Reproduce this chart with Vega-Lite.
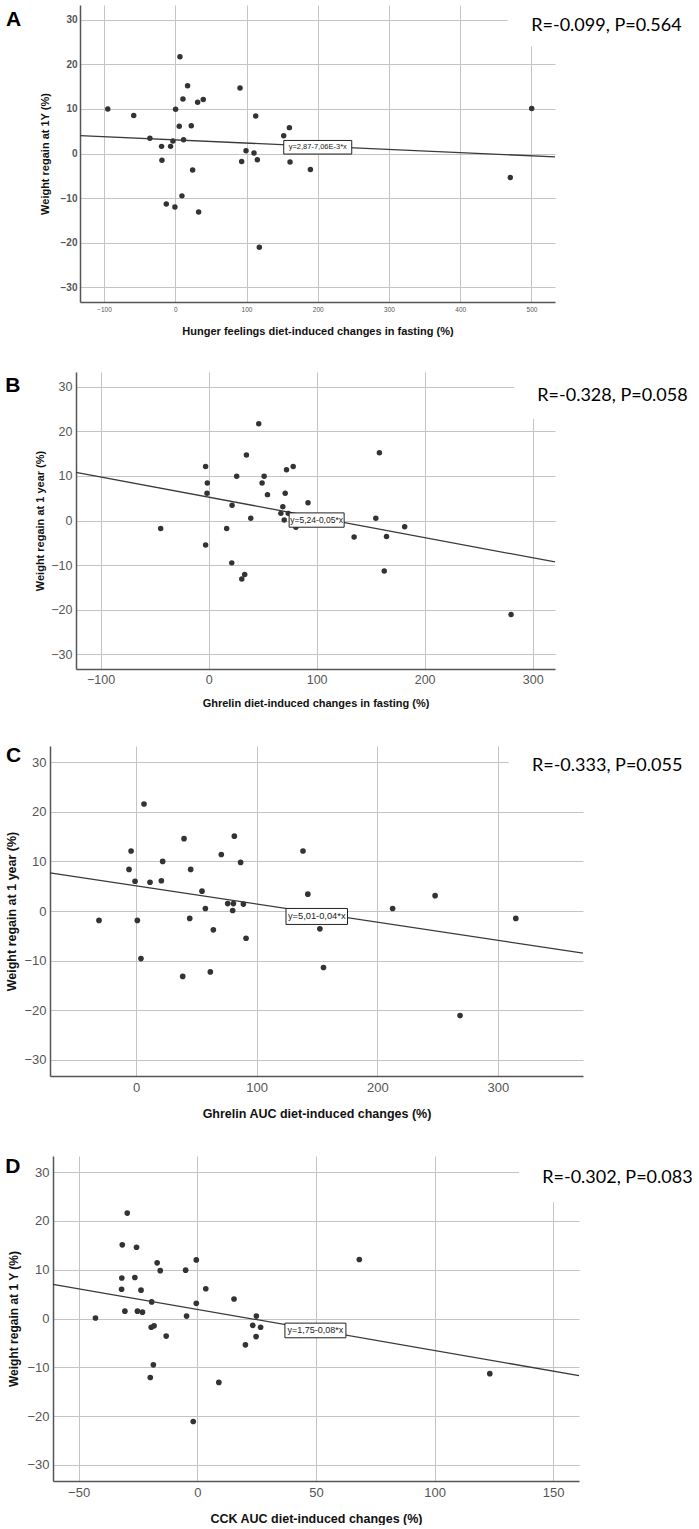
{
  "$schema": "https://vega.github.io/schema/vega-lite/v6.json",
  "description": "Weight regain at 1 year vs diet-induced changes in hunger, ghrelin and CCK, four scatter panels with linear fits",
  "background": "white",
  "padding": {"left": 4, "top": 5, "right": 0, "bottom": 0},
  "columns": 2,
  "align": "none",
  "spacing": {"row": 36, "column": 0},
  "config": {
    "view": {"stroke": null},
    "axis": {
      "grid": true, "gridColor": "#c4c4c4", "gridWidth": 1,
      "domainColor": "#555", "domainWidth": 1.5,
      "ticks": false, "labelColor": "#555", "labelFont": "Liberation Sans",
      "labelPadding": 4, "titleFont": "Liberation Sans", "titleFontWeight": "bold", "titleColor": "#111"
    }
  },
  "datasets": {
    "none": [],
    "a": [
      {"change": -94.7, "regain": 10.0}, {"change": -58.3, "regain": 8.5}, {"change": -35.6, "regain": 3.4},
      {"change": -19.2, "regain": 1.6}, {"change": -18.7, "regain": -1.5}, {"change": -12.6, "regain": -11.3},
      {"change": -6.6, "regain": 1.6}, {"change": -3.3, "regain": 2.8}, {"change": -0.5, "regain": -12.0},
      {"change": 0.5, "regain": 9.9}, {"change": 5.6, "regain": 6.1}, {"change": 6.6, "regain": 21.7},
      {"change": 9.4, "regain": -9.5}, {"change": 10.8, "regain": 12.2}, {"change": 11.7, "regain": 3.1},
      {"change": 17.3, "regain": 15.2}, {"change": 22.5, "regain": 6.2}, {"change": 24.4, "regain": -3.7},
      {"change": 31.4, "regain": 11.5}, {"change": 32.8, "regain": -13.1}, {"change": 39.3, "regain": 12.1},
      {"change": 90.9, "regain": 14.7}, {"change": 93.2, "regain": -1.8}, {"change": 99.3, "regain": 0.6},
      {"change": 110.5, "regain": 0.1}, {"change": 112.9, "regain": 8.4}, {"change": 115.2, "regain": -1.4},
      {"change": 118.0, "regain": -21.0}, {"change": 152.2, "regain": 4.0}, {"change": 160.2, "regain": 5.8},
      {"change": 161.1, "regain": -1.9}, {"change": 189.7, "regain": -3.6}, {"change": 470.2, "regain": -5.4},
      {"change": 500.3, "regain": 10.1}
    ],
    "fit_a": [{"change": -133.7, "regain": 4.0}, {"change": 533, "regain": -0.75}],
    "b": [
      {"change": -44.4, "regain": -1.8}, {"change": -2.8, "regain": 12.1}, {"change": -1.2, "regain": 8.4},
      {"change": -1.5, "regain": 6.1}, {"change": -2.8, "regain": -5.5}, {"change": 16.7, "regain": -1.8},
      {"change": 21.7, "regain": 3.4}, {"change": 21.4, "regain": -9.5}, {"change": 26.0, "regain": 9.9},
      {"change": 30.7, "regain": -13.1}, {"change": 33.4, "regain": -12.1}, {"change": 35.0, "regain": 14.7},
      {"change": 39.0, "regain": 0.5}, {"change": 46.4, "regain": 21.7}, {"change": 49.5, "regain": 8.4},
      {"change": 51.4, "regain": 9.9}, {"change": 54.5, "regain": 5.8}, {"change": 68.7, "regain": 3.1},
      {"change": 66.9, "regain": 1.6}, {"change": 70.9, "regain": 6.1}, {"change": 72.1, "regain": 11.4},
      {"change": 70.0, "regain": 0.1}, {"change": 73.7, "regain": 1.6}, {"change": 78.3, "regain": 12.1},
      {"change": 80.8, "regain": -1.5}, {"change": 92.0, "regain": 4.0}, {"change": 134.7, "regain": -3.7},
      {"change": 154.8, "regain": 0.5}, {"change": 158.1, "regain": 15.2}, {"change": 162.6, "regain": -11.3},
      {"change": 164.7, "regain": -3.6}, {"change": 181.5, "regain": -1.4}, {"change": 280.0, "regain": -21.1}
    ],
    "fit_b": [{"change": -122.8, "regain": 10.8}, {"change": 320.7, "regain": -9.3}],
    "c": [
      {"change": -30.7, "regain": -1.9}, {"change": -5.8, "regain": 8.4}, {"change": -4.1, "regain": 12.1},
      {"change": -0.8, "regain": 6.0}, {"change": 1.1, "regain": -1.9}, {"change": 4.1, "regain": -9.6},
      {"change": 6.6, "regain": 21.6}, {"change": 11.6, "regain": 5.8}, {"change": 21.0, "regain": 6.1},
      {"change": 22.1, "regain": 10.0}, {"change": 38.7, "regain": -13.2}, {"change": 39.8, "regain": 14.6},
      {"change": 44.5, "regain": -1.5}, {"change": 45.3, "regain": 8.4}, {"change": 54.7, "regain": 4.0},
      {"change": 57.5, "regain": 0.5}, {"change": 61.6, "regain": -12.3}, {"change": 64.1, "regain": -3.8},
      {"change": 70.7, "regain": 11.4}, {"change": 76.0, "regain": 1.5}, {"change": 80.1, "regain": 0.1},
      {"change": 80.7, "regain": 1.5}, {"change": 81.5, "regain": 15.1}, {"change": 86.7, "regain": 9.8},
      {"change": 89.0, "regain": 1.4}, {"change": 91.2, "regain": -5.5}, {"change": 138.4, "regain": 12.1},
      {"change": 142.4, "regain": 3.4}, {"change": 152.4, "regain": -3.6}, {"change": 155.4, "regain": -11.4},
      {"change": 212.7, "regain": 0.5}, {"change": 247.9, "regain": 3.1}, {"change": 268.6, "regain": -21.1},
      {"change": 314.8, "regain": -1.5}
    ],
    "fit_c": [{"change": -71.3, "regain": 7.7}, {"change": 370.5, "regain": -8.5}],
    "d": [
      {"change": -42.9, "regain": 0.1}, {"change": -31.9, "regain": 6.0}, {"change": -31.8, "regain": 8.3},
      {"change": -31.6, "regain": 15.1}, {"change": -30.5, "regain": 1.5}, {"change": -29.5, "regain": 21.6},
      {"change": -26.3, "regain": 8.4}, {"change": -25.6, "regain": 14.6}, {"change": -25.2, "regain": 1.5},
      {"change": -23.7, "regain": 5.8}, {"change": -23.1, "regain": 1.3}, {"change": -19.8, "regain": -12.1},
      {"change": -19.2, "regain": 3.4}, {"change": -19.4, "regain": -1.8}, {"change": -18.5, "regain": -9.5},
      {"change": -18.2, "regain": -1.5}, {"change": -16.9, "regain": 11.4}, {"change": -15.6, "regain": 9.8},
      {"change": -13.1, "regain": -3.6}, {"change": -4.9, "regain": 9.9}, {"change": -4.5, "regain": 0.5},
      {"change": -1.7, "regain": -21.1}, {"change": -0.4, "regain": 3.1}, {"change": -0.4, "regain": 12.0},
      {"change": 3.6, "regain": 6.1}, {"change": 9.1, "regain": -13.1}, {"change": 15.5, "regain": 4.0},
      {"change": 20.3, "regain": -5.4}, {"change": 23.4, "regain": -1.4}, {"change": 24.8, "regain": -3.7},
      {"change": 24.9, "regain": 0.5}, {"change": 26.7, "regain": -1.8}, {"change": 68.3, "regain": 12.1},
      {"change": 123.3, "regain": -11.3}
    ],
    "fit_d": [{"change": -60.8, "regain": 7.0}, {"change": 160.9, "regain": -11.7}]
  },
  "concat": [
    {"width": 1, "height": 1, "data": {"name": "none"}, "mark": "point"},
    {
      "width": 475,
      "height": 297,
      "layer": [
        {
          "data": {"name": "a"},
          "mark": {"type": "circle", "size": 30, "color": "#333", "opacity": 1},
          "encoding": {
            "x": {"field": "change", "type": "quantitative", "scale": {"domain": [-133.7, 533], "nice": false, "zero": false},
                  "axis": {"values": [-100, 0, 100, 200, 300, 400, 500], "title": "Hunger feelings diet-induced changes in fasting (%)", "labelFontSize": 6.5, "titleFontSize": 11, "titleY": 23}},
            "y": {"field": "regain", "type": "quantitative", "scale": {"domain": [-33.3, 33.3], "nice": false, "zero": false},
                  "axis": {"values": [-30, -20, -10, 0, 10, 20, 30], "title": "Weight regain at 1Y (%)", "labelFontSize": 10, "labelFontWeight": "bold", "labelPadding": 3, "titleFontSize": 11, "titleX": -30, "titleY": 148.5}}
          }
        },
        {
          "data": {"name": "fit_a"},
          "mark": {"type": "line", "color": "#3a3a3a", "strokeWidth": 1.3},
          "encoding": {"x": {"field": "change", "type": "quantitative"}, "y": {"field": "regain", "type": "quantitative"}}
        },
        {
          "data": {"values": [{"panel": "A", "stat": "R=-0.099, P=0.564", "eq": "y=2,87-7,06E-3*x"}]},
          "layer": [
            {"mark": {"type": "text", "align": "left", "baseline": "top", "font": "Liberation Sans", "fontSize": 21, "fontWeight": "bold", "color": "#000"},
             "encoding": {"x": {"datum": -237.6}, "y": {"datum": 32.5}, "text": {"field": "panel"}}},
            {"mark": {"type": "rect", "fill": "white"},
             "encoding": {"x": {"datum": 466.5}, "x2": {"datum": 533}, "y": {"datum": 33.3}, "y2": {"datum": 24}}},
            {"mark": {"type": "text", "align": "left", "baseline": "middle", "font": "Lato", "fontSize": 18, "color": "#000"},
             "encoding": {"x": {"datum": 499.7}, "y": {"datum": 28.6}, "text": {"field": "stat"}}},
            {"mark": {"type": "point", "shape": "M-1,-0.2L1,-0.2L1,0.2L-1,0.2Z", "size": 4624, "filled": true, "fill": "white", "stroke": "#222", "strokeWidth": 1, "opacity": 1},
             "encoding": {"x": {"datum": 200}, "y": {"datum": 1.4}}},
            {"mark": {"type": "text", "font": "Liberation Sans", "fontSize": 7.5, "color": "#222"},
             "encoding": {"x": {"datum": 200}, "y": {"datum": 1.4}, "text": {"field": "eq"}}}
          ]
        }
      ]
    },
    {"width": 1, "height": 1, "data": {"name": "none"}, "mark": "point"},
    {
      "width": 479,
      "height": 297,
      "layer": [
        {
          "data": {"name": "b"},
          "mark": {"type": "circle", "size": 30, "color": "#333", "opacity": 1},
          "encoding": {
            "x": {"field": "change", "type": "quantitative", "scale": {"domain": [-122.8, 320.7], "nice": false, "zero": false},
                  "axis": {"values": [-100, 0, 100, 200, 300], "title": "Ghrelin diet-induced changes in fasting (%)", "labelFontSize": 12.5, "titleFontSize": 11, "titleY": 28}},
            "y": {"field": "regain", "type": "quantitative", "scale": {"domain": [-33.3, 33.3], "nice": false, "zero": false},
                  "axis": {"values": [-30, -20, -10, 0, 10, 20, 30], "title": "Weight regain at 1 year (%)", "labelFontSize": 12.5, "titleFontSize": 11, "titleX": -30.4, "titleY": 148.5}}
          }
        },
        {
          "data": {"name": "fit_b"},
          "mark": {"type": "line", "color": "#3a3a3a", "strokeWidth": 1.3},
          "encoding": {"x": {"field": "change", "type": "quantitative"}, "y": {"field": "regain", "type": "quantitative"}}
        },
        {
          "data": {"values": [{"panel": "B", "stat": "R=-0.328, P=0.058", "eq": "y=5,24-0,05*x"}]},
          "layer": [
            {"mark": {"type": "text", "align": "left", "baseline": "top", "font": "Liberation Sans", "fontSize": 21, "fontWeight": "bold", "color": "#000"},
             "encoding": {"x": {"datum": -188.3}, "y": {"datum": 32.7}, "text": {"field": "panel"}}},
            {"mark": {"type": "rect", "fill": "white"},
             "encoding": {"x": {"datum": 283}, "x2": {"datum": 320.7}, "y": {"datum": 33.3}, "y2": {"datum": 22.75}}},
            {"mark": {"type": "text", "align": "left", "baseline": "middle", "font": "Lato", "fontSize": 18, "color": "#000"},
             "encoding": {"x": {"datum": 304.3}, "y": {"datum": 27.9}, "text": {"field": "stat"}}},
            {"mark": {"type": "point", "shape": "M-1,-0.26L1,-0.26L1,0.26L-1,0.26Z", "size": 3025, "filled": true, "fill": "white", "stroke": "#222", "strokeWidth": 1, "opacity": 1},
             "encoding": {"x": {"datum": 100}, "y": {"datum": 0.1}}},
            {"mark": {"type": "text", "font": "Liberation Sans", "fontSize": 8.5, "color": "#222"},
             "encoding": {"x": {"datum": 100}, "y": {"datum": 0.1}, "text": {"field": "eq"}}}
          ]
        }
      ]
    },
    {"width": 1, "height": 1, "data": {"name": "none"}, "mark": "point"},
    {
      "width": 533,
      "height": 330,
      "layer": [
        {
          "data": {"name": "c"},
          "mark": {"type": "circle", "size": 32, "color": "#333", "opacity": 1},
          "encoding": {
            "x": {"field": "change", "type": "quantitative", "scale": {"domain": [-71.3, 370.5], "nice": false, "zero": false},
                  "axis": {"values": [0, 100, 200, 300], "title": "Ghrelin AUC diet-induced changes (%)", "labelFontSize": 13, "labelPadding": 5, "titleFontSize": 12.5, "titleY": 31}},
            "y": {"field": "regain", "type": "quantitative", "scale": {"domain": [-33.3, 33.3], "nice": false, "zero": false},
                  "axis": {"values": [-30, -20, -10, 0, 10, 20, 30], "title": "Weight regain at 1 year (%)", "labelFontSize": 13, "titleFontSize": 12.5, "titleX": -32, "titleY": 165}}
          }
        },
        {
          "data": {"name": "fit_c"},
          "mark": {"type": "line", "color": "#3a3a3a", "strokeWidth": 1.3},
          "encoding": {"x": {"field": "change", "type": "quantitative"}, "y": {"field": "regain", "type": "quantitative"}}
        },
        {
          "data": {"values": [{"panel": "C", "stat": "R=-0.333, P=0.055", "eq": "y=5,01-0,04*x"}]},
          "layer": [
            {"mark": {"type": "text", "align": "left", "baseline": "top", "font": "Liberation Sans", "fontSize": 21, "fontWeight": "bold", "color": "#000"},
             "encoding": {"x": {"datum": -107.8}, "y": {"datum": 33.6}, "text": {"field": "panel"}}},
            {"mark": {"type": "rect", "fill": "white"},
             "encoding": {"x": {"datum": 309}, "x2": {"datum": 370.5}, "y": {"datum": 33.3}, "y2": {"datum": 25}}},
            {"mark": {"type": "text", "align": "left", "baseline": "middle", "font": "Lato", "fontSize": 18, "color": "#000"},
             "encoding": {"x": {"datum": 328.2}, "y": {"datum": 29.2}, "text": {"field": "stat"}}},
            {"mark": {"type": "point", "shape": "M-1,-0.26L1,-0.26L1,0.26L-1,0.26Z", "size": 3782, "filled": true, "fill": "white", "stroke": "#222", "strokeWidth": 1, "opacity": 1},
             "encoding": {"x": {"datum": 149.8}, "y": {"datum": -1.1}}},
            {"mark": {"type": "text", "font": "Liberation Sans", "fontSize": 9.3, "color": "#222"},
             "encoding": {"x": {"datum": 149.8}, "y": {"datum": -1.1}, "text": {"field": "eq"}}}
          ]
        }
      ]
    },
    {"width": 1, "height": 1, "data": {"name": "none"}, "mark": "point"},
    {
      "width": 526,
      "height": 325,
      "layer": [
        {
          "data": {"name": "d"},
          "mark": {"type": "circle", "size": 32, "color": "#333", "opacity": 1},
          "encoding": {
            "x": {"field": "change", "type": "quantitative", "scale": {"domain": [-60.8, 160.9], "nice": false, "zero": false},
                  "axis": {"values": [-50, 0, 50, 100, 150], "title": "CCK AUC diet-induced changes (%)", "labelFontSize": 13, "labelPadding": 5, "titleFontSize": 12.5, "titleY": 31}},
            "y": {"field": "regain", "type": "quantitative", "scale": {"domain": [-33.3, 33.3], "nice": false, "zero": false},
                  "axis": {"values": [-30, -20, -10, 0, 10, 20, 30], "title": "Weight regain at 1 Y (%)", "labelFontSize": 13, "titleFontSize": 12, "titleX": -32.6, "titleY": 162.5}}
          }
        },
        {
          "data": {"name": "fit_d"},
          "mark": {"type": "line", "color": "#3a3a3a", "strokeWidth": 1.3},
          "encoding": {"x": {"field": "change", "type": "quantitative"}, "y": {"field": "regain", "type": "quantitative"}}
        },
        {
          "data": {"values": [{"panel": "D", "stat": "R=-0.302, P=0.083", "eq": "y=1,75-0,08*x"}]},
          "layer": [
            {"mark": {"type": "text", "align": "left", "baseline": "top", "font": "Liberation Sans", "fontSize": 21, "fontWeight": "bold", "color": "#000"},
             "encoding": {"x": {"datum": -80.9}, "y": {"datum": 33.3}, "text": {"field": "panel"}}},
            {"mark": {"type": "rect", "fill": "white"},
             "encoding": {"x": {"datum": 135.6}, "x2": {"datum": 160.9}, "y": {"datum": 33.3}, "y2": {"datum": 23.8}}},
            {"mark": {"type": "text", "align": "left", "baseline": "middle", "font": "Lato", "fontSize": 18, "color": "#000"},
             "encoding": {"x": {"datum": 145.4}, "y": {"datum": 28.8}, "text": {"field": "stat"}}},
            {"mark": {"type": "point", "shape": "M-1,-0.24L1,-0.24L1,0.24L-1,0.24Z", "size": 3721, "filled": true, "fill": "white", "stroke": "#222", "strokeWidth": 1, "opacity": 1},
             "encoding": {"x": {"datum": 49.8}, "y": {"datum": -2.45}}},
            {"mark": {"type": "text", "font": "Liberation Sans", "fontSize": 9, "color": "#222"},
             "encoding": {"x": {"datum": 49.8}, "y": {"datum": -2.45}, "text": {"field": "eq"}}}
          ]
        }
      ]
    }
  ]
}
